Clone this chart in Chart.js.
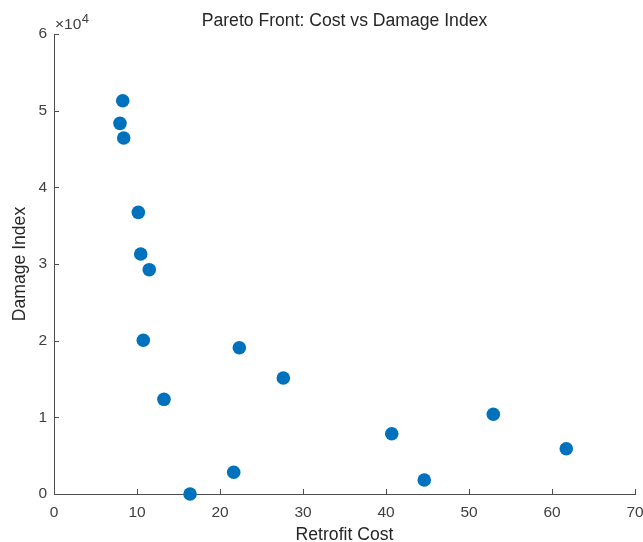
<!DOCTYPE html>
<html>
<head>
<meta charset="utf-8">
<script src="https://cdn.jsdelivr.net/npm/chart.js@4.4.1/dist/chart.umd.min.js"></script>
<style>
  html, body { margin: 0; padding: 0; background: #ffffff; }
  #wrap { width: 643px; height: 542px; position: relative; }
</style>
</head>
<body>
<div id="wrap"><canvas id="c" width="643" height="542"></canvas></div>
<script>
const retrofitCost = [8.28, 7.95, 8.40, 10.16, 10.45, 11.48, 10.76, 13.25, 16.39, 21.65, 22.33, 27.63, 40.69, 44.61, 52.93, 61.72];
const damageIndex  = [51300, 48350, 46430, 36740, 31300, 29260, 20050, 12350, 0, 2830, 19080, 15130, 7860, 1830, 10400, 5910];
const xTicks = [0, 10, 20, 30, 40, 50, 60, 70];
const yTicks = [0, 10000, 20000, 30000, 40000, 50000, 60000];
const yExponent = 4;
const titleText = 'Pareto Front: Cost vs Damage Index';
const xLabel = 'Retrofit Cost';
const yLabel = 'Damage Index';

const FONT = '"Liberation Sans", Arial, Helvetica, sans-serif';
const AXIS_COLOR = '#4d4d4d';
const TEXT_COLOR = '#262626';
const TICK_TEXT = '#404040';

const points = retrofitCost.map((x, i) => ({ x: x, y: damageIndex[i] }));

const inwardTicks = {
  id: 'inwardTicks',
  afterDraw(chart) {
    const ctx = chart.ctx;
    const xs = chart.scales.x, ys = chart.scales.y;
    const a = chart.chartArea;
    ctx.save();
    ctx.strokeStyle = AXIS_COLOR;
    ctx.lineWidth = 1;
    ctx.beginPath();
    xTicks.forEach(v => {
      const px = Math.round(xs.getPixelForValue(v)) + 0.5;
      ctx.moveTo(px, a.bottom);
      ctx.lineTo(px, a.bottom - 5);
    });
    yTicks.forEach(v => {
      const py = Math.round(ys.getPixelForValue(v)) + 0.5;
      ctx.moveTo(a.left, py);
      ctx.lineTo(a.left + 5, py);
    });
    ctx.stroke();
    // exponent label
    ctx.fillStyle = TICK_TEXT;
    ctx.textBaseline = 'alphabetic';
    ctx.textAlign = 'left';
    ctx.font = '15.5px ' + FONT;
    const baseX = a.left + 1, baseY = a.top - 5;
    ctx.fillText('\u00d710', baseX, baseY);
    const w = ctx.measureText('\u00d710').width;
    ctx.font = '13px ' + FONT;
    ctx.fillText(String(yExponent), baseX + w + 0.5, baseY - 6);
    ctx.restore();
  }
};

new Chart(document.getElementById('c'), {
  type: 'scatter',
  data: {
    datasets: [{
      data: points,
      backgroundColor: '#0072BD',
      borderWidth: 0,
      pointRadius: 6.8,
      pointHoverRadius: 6.8,
      clip: false
    }]
  },
  options: {
    responsive: false,
    animation: false,
    events: [],
    layout: { padding: { left: 0, right: 0, top: 0, bottom: 0 } },
    plugins: {
      legend: { display: false },
      tooltip: { enabled: false },
      title: {
        display: true,
        text: titleText,
        fullSize: false,
        color: TEXT_COLOR,
        font: { family: FONT, size: 17.6, weight: 'normal', lineHeight: 1.2 },
        padding: { top: 10.8, bottom: 2.1 }
      }
    },
    scales: {
      x: {
        type: 'linear',
        min: 0, max: 70,
        afterBuildTicks(scale) { scale.ticks = xTicks.map(v => ({ value: v })); },
        afterFit(scale) { scale.height = 48; scale.paddingRight = 8; scale.paddingLeft = 0; },
        grid: { display: false, drawTicks: false },
        border: { display: true, color: AXIS_COLOR, width: 1 },
        ticks: {
          color: TICK_TEXT,
          font: { family: FONT, size: 15.5 },
          padding: 9,
          maxRotation: 0,
          autoSkip: false
        },
        title: {
          display: true,
          text: xLabel,
          color: TEXT_COLOR,
          font: { family: FONT, size: 17.6, lineHeight: 1 },
          padding: { top: 0, bottom: -1.5 }
        }
      },
      y: {
        type: 'linear',
        min: 0, max: 60000,
        afterBuildTicks(scale) { scale.ticks = yTicks.map(v => ({ value: v })); },
        afterFit(scale) { scale.width = 54; },
        grid: { display: false, drawTicks: false },
        border: { display: true, color: AXIS_COLOR, width: 1 },
        ticks: {
          color: TICK_TEXT,
          font: { family: FONT, size: 15.5 },
          padding: 7,
          autoSkip: false,
          callback: v => String(v / Math.pow(10, yExponent))
        },
        title: {
          display: true,
          text: yLabel,
          color: TEXT_COLOR,
          font: { family: FONT, size: 17.6, lineHeight: 1.2 },
          padding: { top: 10, bottom: 0 }
        }
      }
    }
  },
  plugins: [inwardTicks]
});
</script>
</body>
</html>
